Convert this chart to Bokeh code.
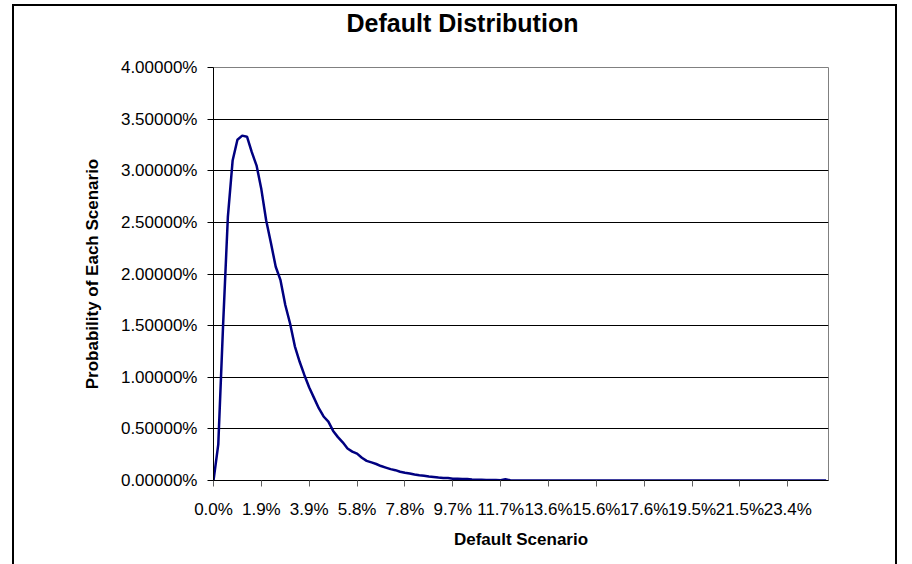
from bokeh.plotting import figure
from bokeh.models import Range1d, FixedTicker, PrintfTickFormatter, Title
from bokeh.embed import file_html
from bokeh.resources import INLINE

# ---- data ----
title_text = "Default Distribution"
x_title = "Default Scenario"
y_title = "Probability of Each Scenario"

# default scenario (in %), every 2nd of 1024 steps
scenario_pct = [i * 200.0 / 1024.0 for i in range(129)]

# probability of each scenario (in %)
probability_pct = [
    0.000, 0.350, 1.500, 2.550, 3.100, 3.300, 3.340, 3.330, 3.180, 3.050,
    2.820, 2.520, 2.300, 2.070, 1.940, 1.700, 1.520, 1.300, 1.150, 1.020,
    0.900, 0.800, 0.700, 0.620, 0.570, 0.480, 0.420, 0.370, 0.310, 0.280,
    0.260, 0.220, 0.190, 0.175, 0.160, 0.140, 0.125, 0.110, 0.100, 0.085,
    0.075, 0.068, 0.058, 0.050, 0.045, 0.038, 0.033, 0.028, 0.024, 0.025,
    0.018, 0.016, 0.014, 0.015, 0.010, 0.008, 0.007, 0.006, 0.005, 0.004,
    0.002, 0.012, 0.002, 0.000, 0.000, 0.000, 0.000, 0.000, 0.000, 0.000,
    0.000, 0.000, 0.000, 0.000, 0.000, 0.000, 0.000, 0.000, 0.000, 0.000,
    0.000, 0.000, 0.000, 0.000, 0.000, 0.000, 0.000, 0.000, 0.000, 0.000,
    0.000, 0.000, 0.000, 0.000, 0.000, 0.000, 0.000, 0.000, 0.000, 0.000,
    0.000, 0.000, 0.000, 0.000, 0.000, 0.000, 0.000, 0.000, 0.000, 0.000,
    0.000, 0.000, 0.000, 0.000, 0.000, 0.000, 0.000, 0.000, 0.000, 0.000,
    0.000, 0.000, 0.000, 0.000, 0.000, 0.000, 0.000, 0.000, 0.000,
]

x_tick_pos = [k * 2000.0 / 1024.0 for k in range(13)]
x_tick_labels = ["0.0%", "1.9%", "3.9%", "5.8%", "7.8%", "9.7%", "11.7%",
                 "13.6%", "15.6%", "17.6%", "19.5%", "21.5%", "23.4%"]
y_ticks = [0.0, 0.5, 1.0, 1.5, 2.0, 2.5, 3.0, 3.5, 4.0]

FONT = "Liberation Sans"
W, H = 912, 564
FL, FR, FT, FB = 213, 84, 67, 84   # frame borders

# outer chart border (open at the bottom, it runs past the window), drawn as
# the page element's background behind a transparent canvas border
border_css = {
    "background-color": "white",
    "background-image": ("linear-gradient(black, black), "
                         "linear-gradient(black, black), "
                         "linear-gradient(black, black)"),
    "background-repeat": "no-repeat",
    "background-position": "12px 4px, 895px 4px, 12px 4px",
    "background-size": "2px 100%, 2px 100%, 885px 2px",
}

p = figure(width=W, height=H, output_backend="svg", toolbar_location=None,
           x_range=Range1d(0, 258 * 100.0 / 1024.0 - 100.0 / 1024.0),
           y_range=Range1d(0, 4.0),
           min_border_left=FL, min_border_right=FR,
           min_border_top=FT, min_border_bottom=FB,
           title=None, styles=border_css)
p.background_fill_color = "white"
p.border_fill_color = None
p.outline_line_color = "#808080"
p.outline_line_width = 1

p.line(scenario_pct, probability_pct, line_color="#000080", line_width=2.5)

# y axis
p.yaxis.ticker = FixedTicker(ticks=y_ticks)
p.yaxis.formatter = PrintfTickFormatter(format="%.5f%%")
p.yaxis.axis_line_color = "black"
p.yaxis.major_tick_line_color = "black"
p.yaxis.major_tick_out = 6
p.yaxis.major_tick_in = 0
p.yaxis.minor_tick_line_color = None
p.yaxis.major_label_text_font = FONT
p.yaxis.major_label_text_font_size = "17px"
p.yaxis.major_label_text_color = "black"
p.yaxis.major_label_standoff = 10
p.yaxis.axis_label = y_title
p.yaxis.axis_label_text_font = FONT
p.yaxis.axis_label_text_font_size = "17px"
p.yaxis.axis_label_text_font_style = "bold"
p.yaxis.axis_label_text_color = "black"
p.yaxis.axis_label_standoff = 16

# x axis
p.xaxis.ticker = FixedTicker(ticks=x_tick_pos)
p.xaxis.major_label_overrides = {t: l for t, l in zip(x_tick_pos, x_tick_labels)}
p.xaxis.axis_line_color = "black"
p.xaxis.major_tick_line_color = "#606060"
p.xaxis.major_tick_out = 6
p.xaxis.major_tick_in = 0
p.xaxis.minor_tick_line_color = None
p.xaxis.major_label_text_font = FONT
p.xaxis.major_label_text_font_size = "17px"
p.xaxis.major_label_text_color = "black"
p.xaxis.major_label_standoff = 13
p.xaxis.axis_label = x_title
p.xaxis.axis_label_text_font = FONT
p.xaxis.axis_label_text_font_size = "17px"
p.xaxis.axis_label_text_font_style = "bold"
p.xaxis.axis_label_text_color = "black"
p.xaxis.axis_label_standoff = 8

# grid
p.xgrid.grid_line_color = None
p.ygrid.ticker = FixedTicker(ticks=y_ticks)
p.ygrid.grid_line_color = "black"
p.ygrid.grid_line_width = 1

# title, centred on the whole chart (about x = 462); the empty second line
# lifts it towards the top of the chart area
p.add_layout(Title(text=title_text + "\n", align="left", offset=462 - FL - 116,
                   vertical_align="bottom", standoff=5,
                   text_line_height=1.0,
                   text_font=FONT, text_font_size="25px", text_font_style="bold",
                   text_color="black"), "above")

open("out.html", "w").write(file_html(p, INLINE))
